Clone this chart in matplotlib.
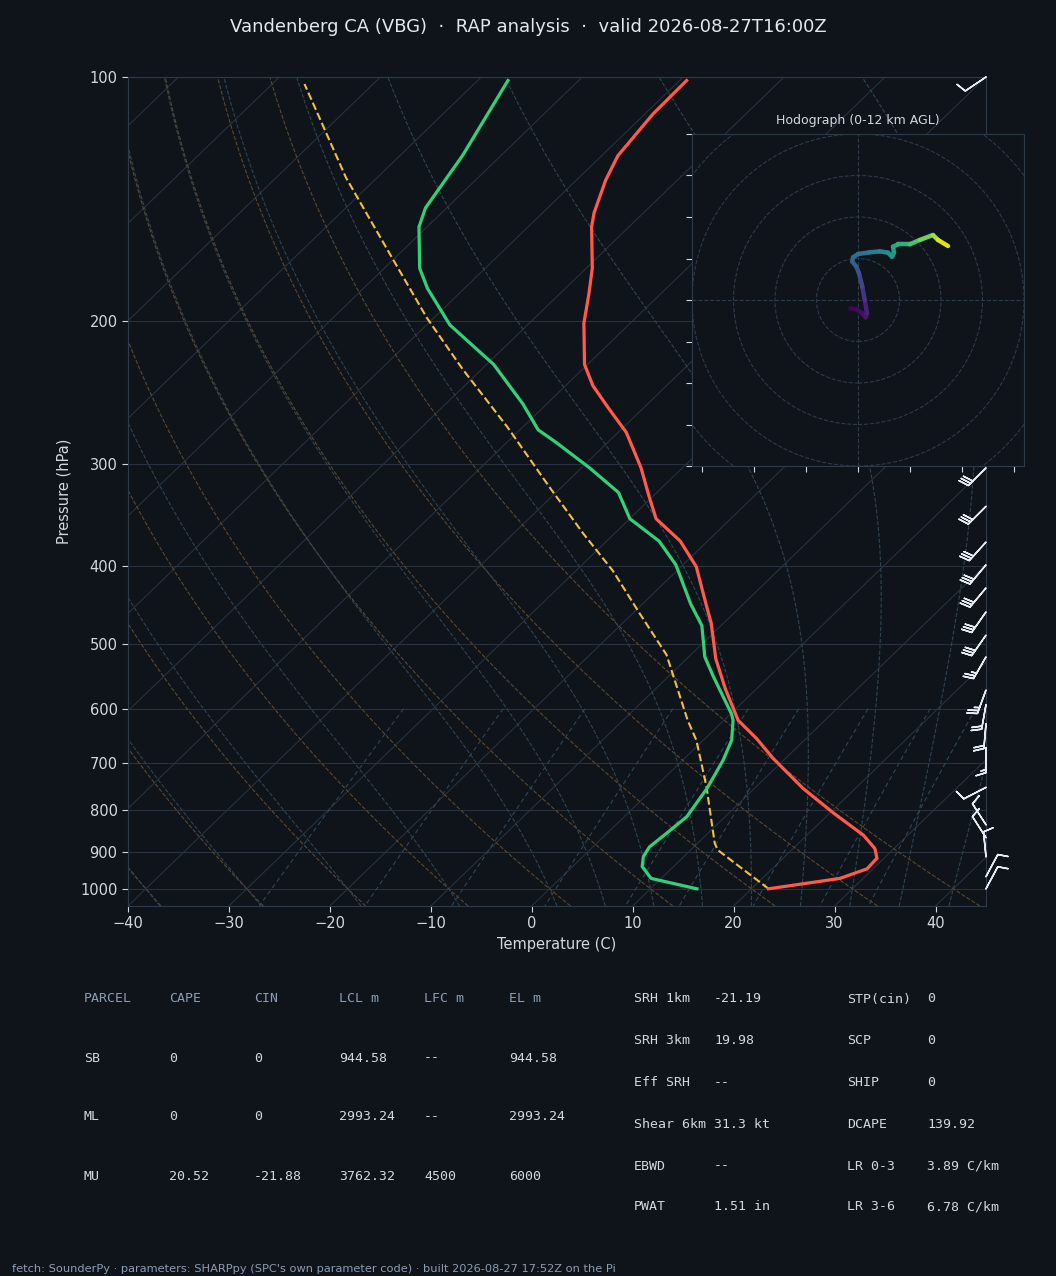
import numpy as np
import matplotlib
matplotlib.use('Agg')
import matplotlib.pyplot as plt
import matplotlib.transforms as mtransforms
from matplotlib.collections import LineCollection
from matplotlib.patches import Circle

# --- sounding ---
temp_p = [1000, 971, 945, 917, 892, 859, 807, 752, 691, 653, 620, 567, 521, 471, 441,
          401, 373, 350, 327, 303, 274, 256, 240, 226, 201, 185, 172, 153, 147, 134,
          125, 111, 101]
temp_c = [21.7, 27.7, 29.4, 29.3, 28.1, 25.6, 20.4, 14.8, 8.8, 5.1, 1.4, -3.1, -7.1,
          -11.2, -14.2, -18.5, -22.7, -27.4, -30.6, -34.1, -39.2, -43.4, -47.3, -50.3,
          -54.6, -57.1, -59.4, -63.7, -64.9, -67.1, -68.4, -69.2, -69.3]

dewp_p = [1000, 971, 939, 913, 888, 854, 815, 752, 694, 656, 620, 609, 547, 518, 474,
          446, 399, 373, 350, 325, 303, 282, 272, 253, 226, 202, 182, 172, 153, 145,
          125, 101]
dewp_c = [14.6, 9.0, 6.9, 6.0, 5.6, 5.9, 6.2, 5.3, 4.0, 2.8, 0.9, 0.1, -5.6, -8.4,
          -11.9, -15.2, -20.7, -24.8, -30.0, -33.8, -39.2, -45.1, -48.2, -52.3, -59.3,
          -67.7, -73.7, -76.5, -80.8, -82.1, -83.8, -87.0]

parcel_p = [1000, 896, 879, 749, 656, 620, 515, 458, 406, 365, 320, 270, 229, 198,
            167, 133, 102]
parcel_c = [21.7, 12.7, 11.7, 5.1, -0.7, -3.6, -12.4, -19.3, -26.3, -33.1, -41.2,
            -51.5, -61.9, -70.7, -80.3, -93.1, -106.8]

# wind barbs (kt)
barb_p = [100, 303, 338, 374, 399, 426, 456, 487, 518, 569, 593, 626, 670, 750,
          834, 865, 913, 966, 1000]
barb_u = [8.3, 21.2, 21.2, 20.1, 19.3, 19.3, 17.2, 17.2, 12.5, 8.6, 3.5, 1.7, 0.0,
          8.9, 5.4, 5.4, 1.0, -4.7, -4.7]
barb_v = [5.6, 21.2, 21.2, 22.3, 23.0, 23.0, 24.6, 24.6, 21.7, 23.5, 19.7, 19.9,
          15.0, 4.6, -8.4, -8.4, -10.0, -8.8, -8.8]

# hodograph (m/s) and height (km)
hodo_u = [-1.85, -0.40, 1.04, 1.85, 2.17, 1.61, 1.04, 0.24, -0.40, -1.37, -1.20, 0.0,
          2.81, 5.22, 7.23, 8.19, 8.67, 8.43, 9.64, 12.45, 14.86, 18.07, 19.28, 21.69]
hodo_v = [-2.01, -2.25, -3.21, -4.18, -3.21, 0.0, 3.21, 6.43, 8.03, 9.24, 10.28, 11.08,
          11.49, 11.73, 11.41, 10.44, 11.41, 12.85, 13.41, 13.41, 14.46, 15.66, 14.46,
          13.01]
hodo_z = [0.0, 0.2, 0.4, 0.6, 0.8, 1.5, 2.2, 2.8, 3.2, 3.7, 4.0, 4.3, 4.8, 5.3, 5.9,
          6.4, 6.7, 7.0, 7.3, 8.1, 8.9, 10.1, 10.7, 12.0]

# parameter tables
parcel_head = ['PARCEL', 'CAPE', 'CIN', 'LCL m', 'LFC m', 'EL m']
parcel_rows = [['SB', '0', '0', '944.58', '--', '944.58'],
               ['ML', '0', '0', '2993.24', '--', '2993.24'],
               ['MU', '20.52', '-21.88', '3762.32', '4500', '6000']]
kin_names = ['SRH 1km', 'SRH 3km', 'Eff SRH', 'Shear 6km', 'EBWD', 'PWAT']
kin_vals = ['-21.19', '19.98', '--', '31.3 kt', '--', '1.51 in']
idx_names = ['STP(cin)', 'SCP', 'SHIP', 'DCAPE', 'LR 0-3', 'LR 3-6']
idx_vals = ['0', '0', '0', '139.92', '3.89 C/km', '6.78 C/km']

title = 'Vandenberg CA (VBG)  \u00b7  RAP analysis  \u00b7  valid 2026-08-27T16:00Z'
footer = ("fetch: SounderPy \u00b7 parameters: SHARPpy (SPC's own parameter code) "
          "\u00b7 built 2026-08-27 17:52Z on the Pi")

BG = '#0f141b'
GRID = '#28313d'
SPINE = '#2f3a48'
TXT = '#d3d8df'
MUTED = '#8a9db3'

W, H = 1056, 1276
fig = plt.figure(figsize=(W / 100, H / 100), dpi=100, facecolor=BG)


def fx(px):
    return px / W


def fy(py):
    return 1 - py / H


ax = fig.add_axes([fx(128), fy(906), fx(986) - fx(128), fy(77) - fy(906)], facecolor=BG)
ax.set_autoscale_on(False)
ax.set_yscale('log')
ax.set_xlim(-40, 45)
ax.set_ylim(1050, 100)

skew = (ax.transScale + ax.transLimits
        + mtransforms.Affine2D().skew_deg(45, 0) + ax.transAxes)

# isotherms and isobars
for t in np.arange(-130, 50, 10):
    ax.plot([t, t], [1050, 100], color=GRID, lw=0.8, transform=skew, zorder=1)
plevs = list(range(100, 1001, 100))
for p in plevs:
    ax.axhline(p, color=GRID, lw=0.8, zorder=1)

# dry adiabats
pp = np.linspace(1050, 100, 120)
for th in np.arange(-40, 46, 10):
    t = (th + 273.15) * (pp / 1000.0) ** 0.2857 - 273.15
    ax.plot(t, pp, color='#5a4830', lw=0.8, ls='--', transform=skew, zorder=1)


# moist adiabats
def dtdp(t, p):
    es = 6.112 * np.exp(17.67 * (t - 273.15) / (t - 29.65))
    rs = 0.622 * es / (p - es)
    num = 287.04 * t + 2.501e6 * rs
    den = 1005.7 + 2.501e6 ** 2 * rs * 0.622 / (287.04 * t ** 2)
    return num / den / p


def integrate(t0, ps):
    out = [t0]
    t = t0
    for a, b in zip(ps[:-1], ps[1:]):
        h = b - a
        k1 = dtdp(t, a)
        k2 = dtdp(t + h / 2 * k1, a + h / 2)
        k3 = dtdp(t + h / 2 * k2, a + h / 2)
        k4 = dtdp(t + h * k3, b)
        t = t + h / 6 * (k1 + 2 * k2 + 2 * k3 + k4)
        out.append(t)
    return np.array(out)


moist_t0 = np.concatenate((np.arange(-40, 0, 10), np.arange(0, 46, 5))) + 273.15
p_up = np.linspace(1000, 100, 120)
p_dn = np.linspace(1000, 1050, 6)
t_up = integrate(moist_t0, p_up)
t_dn = integrate(moist_t0, p_dn)
for i in range(len(moist_t0)):
    pm = np.concatenate((p_dn[::-1], p_up[1:]))
    tm = np.concatenate((t_dn[::-1, i], t_up[1:, i])) - 273.15
    ax.plot(tm, pm, color='#30434f', lw=0.8, ls='--', transform=skew, zorder=1)

# mixing ratio lines
pmix = np.linspace(600, 1050, 30)
for w in [0.0004, 0.001, 0.002, 0.004, 0.007, 0.01, 0.016, 0.024, 0.032]:
    e = w * pmix / (0.622 + w)
    lne = np.log(e / 6.112)
    td = 243.5 * lne / (17.67 - lne)
    ax.plot(td, pmix, color='#2f4656', lw=0.8, ls=(0, (4, 3)), transform=skew, zorder=1)

# profiles
ax.plot(parcel_c, parcel_p, color='#f2c13c', lw=1.5, ls='--', transform=skew, zorder=4)
ax.plot(temp_c, temp_p, color='#ff5a4b', lw=2.3, transform=skew, zorder=5)
ax.plot(dewp_c, dewp_p, color='#33d07a', lw=2.3, transform=skew, zorder=5)

# wind barbs at the right edge
ax.barbs(np.ones(len(barb_p)), barb_p, barb_u, barb_v,
         transform=ax.get_yaxis_transform(), length=6, color='#e6ebf1',
         lw=1.1, clip_on=False, zorder=6)

ax.set_xlim(-40, 45)
ax.set_ylim(1050, 100)
ax.set_yticks(plevs)
ax.set_yticklabels([str(p) for p in plevs])
ax.minorticks_off()
ax.set_xticks(np.arange(-40, 41, 10))
ax.tick_params(colors=TXT, labelsize=10.5, length=4, width=0.8)
for s in ax.spines.values():
    s.set_color(SPINE)
ax.set_xlabel('Temperature (C)', color=TXT, fontsize=10.5, labelpad=4)
ax.set_ylabel('Pressure (hPa)', color=TXT, fontsize=10.5, labelpad=6)

# hodograph inset
hx = fig.add_axes([fx(692), fy(466), fx(1024) - fx(692), fy(134) - fy(466)], facecolor=BG)
hx.set_xlim(-40, 40)
hx.set_ylim(-40, 40)
for r in [10, 20, 30, 40, 50]:
    hx.add_patch(Circle((0, 0), r, fill=False, ec='#2f3a48', lw=0.8, ls='--'))
hx.axhline(0, color='#2f3a48', lw=0.8, ls='--')
hx.axvline(0, color='#2f3a48', lw=0.8, ls='--')
pts = np.column_stack([hodo_u, hodo_v])
segs = np.stack([pts[:-1], pts[1:]], axis=1)
lc = LineCollection(segs, cmap='viridis', norm=plt.Normalize(0, 12), lw=3.2,
                    capstyle='round')
lc.set_array(np.asarray(hodo_z[:-1]) * 0.5 + np.asarray(hodo_z[1:]) * 0.5)
hx.add_collection(lc)
hx.set_xticks([-37.5, -25, -12.5, 0, 12.5, 25, 37.5])
hx.set_yticks(np.arange(-40, 41, 10))
hx.set_xticklabels([])
hx.set_yticklabels([])
hx.tick_params(colors=TXT, length=4, width=0.8)
for s in hx.spines.values():
    s.set_color(SPINE)
hx.set_title('Hodograph (0-12 km AGL)', color=TXT, fontsize=9, pad=7)

# title / tables / footer
fig.text(0.5, fy(27), title, color='#e4e8ee', fontsize=13, ha='center', va='center')

mono = 'DejaVu Sans Mono'
col_x = [84, 169, 254, 339, 424, 509]
for cx, h in zip(col_x, parcel_head):
    fig.text(fx(cx), fy(999), h, color=MUTED, family=mono, fontsize=9.5, va='center')
for ry, row in zip([1058, 1117, 1176], parcel_rows):
    for cx, v in zip(col_x, row):
        fig.text(fx(cx), fy(ry), v, color=TXT, family=mono, fontsize=9.5, va='center')

row_y = [999, 1041, 1083, 1124, 1166, 1207]
for ry, a, b, c, d in zip(row_y, kin_names, kin_vals, idx_names, idx_vals):
    fig.text(fx(634), fy(ry), a, color=TXT, family=mono, fontsize=9.5, va='center')
    fig.text(fx(714), fy(ry), b, color=TXT, family=mono, fontsize=9.5, va='center')
    fig.text(fx(847), fy(ry), c, color=TXT, family=mono, fontsize=9.5, va='center')
    fig.text(fx(927), fy(ry), d, color=TXT, family=mono, fontsize=9.5, va='center')

fig.text(fx(12), fy(1269), footer, color=MUTED, fontsize=8.2, va='center')

fig.savefig('out.png', dpi=100, facecolor=BG)
